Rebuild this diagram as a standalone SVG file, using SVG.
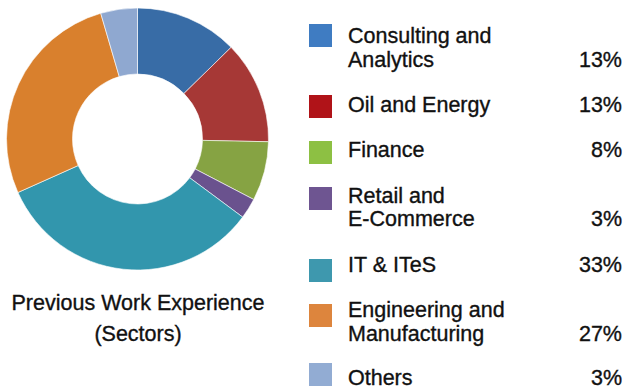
<svg xmlns="http://www.w3.org/2000/svg" width="624" height="389" viewBox="0 0 624 389">
<style>
text{font-family:"Liberation Sans",Arial,Helvetica,sans-serif;font-size:21.5px;fill:#111;stroke:#111;stroke-width:0.35}
.r{text-anchor:end}
.c{text-anchor:middle}
.s{stroke:#fff;stroke-width:0.6}
</style>
<rect width="624" height="389" fill="#fff"/>
<g id="donut">
<path id="slice-consulting" class="s" fill="#386CA6" d="M137.5,8 A131,131 0 0 1 231.10,47.34 L183.94,93.52 A65,65 0 0 0 137.5,74 Z"/>
<path id="slice-oil" class="s" fill="#A63836" d="M231.10,47.34 A131,131 0 0 1 268.47,141.74 L202.49,140.36 A65,65 0 0 0 183.94,93.52 Z"/>
<path id="slice-finance" class="s" fill="#86A343" d="M268.47,141.74 A131,131 0 0 1 253.70,199.49 L195.16,169.01 A65,65 0 0 0 202.49,140.36 Z"/>
<path id="slice-retail" class="s" fill="#6A528E" d="M253.70,199.49 A131,131 0 0 1 242.67,217.10 L189.68,177.75 A65,65 0 0 0 195.16,169.01 Z"/>
<path id="slice-it" class="s" fill="#3296AD" d="M242.67,217.10 A131,131 0 0 1 17.92,192.49 L78.17,165.54 A65,65 0 0 0 189.68,177.75 Z"/>
<path id="slice-eng" class="s" fill="#D9802D" d="M17.92,192.49 A131,131 0 0 1 100.73,13.26 L119.26,76.61 A65,65 0 0 0 78.17,165.54 Z"/>
<path id="slice-others" class="s" fill="#8FA8D0" d="M100.73,13.26 A131,131 0 0 1 137.5,8 L137.5,74 A65,65 0 0 0 119.26,76.61 Z"/>
</g>
<g id="title">
<text class="c" x="138" y="310">Previous Work Experience</text>
<text class="c" x="138" y="341">(Sectors)</text>
</g>
<g id="legend-consulting">
<rect x="309" y="24" width="23" height="23" fill="#3F7CC2"/>
<text x="348" y="43.3">Consulting and</text>
<text x="348" y="66.7">Analytics</text>
<text class="r" x="622" y="66.7">13%</text>
</g>
<g id="legend-oil">
<rect x="309" y="95" width="23" height="23" fill="#B01318"/>
<text x="348" y="111.7">Oil and Energy</text>
<text class="r" x="622" y="111.7">13%</text>
</g>
<g id="legend-finance">
<rect x="309" y="141" width="23" height="23" fill="#8DC043"/>
<text x="348" y="156.7">Finance</text>
<text class="r" x="622" y="156.7">8%</text>
</g>
<g id="legend-retail">
<rect x="309" y="187" width="23" height="23" fill="#6E5591"/>
<text x="348" y="203">Retail and</text>
<text x="348" y="226">E-Commerce</text>
<text class="r" x="622" y="226">3%</text>
</g>
<g id="legend-it">
<rect x="309" y="259" width="23" height="23" fill="#3E98AE"/>
<text x="348" y="271.7">IT &amp; ITeS</text>
<text class="r" x="622" y="271.7">33%</text>
</g>
<g id="legend-eng">
<rect x="309" y="304" width="23" height="23" fill="#DD853D"/>
<text x="348" y="316.7">Engineering and</text>
<text x="348" y="341">Manufacturing</text>
<text class="r" x="622" y="341">27%</text>
</g>
<g id="legend-others">
<rect x="309" y="363" width="23" height="23" fill="#92ACD3"/>
<text x="348" y="385">Others</text>
<text class="r" x="622" y="385">3%</text>
</g>
</svg>
